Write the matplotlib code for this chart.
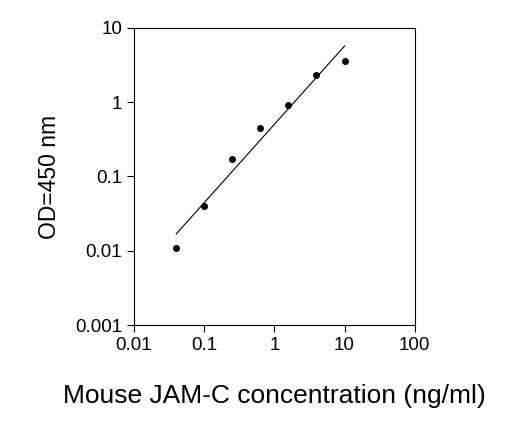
import numpy as np
import matplotlib
matplotlib.use("Agg")
import matplotlib.pyplot as plt
from matplotlib.ticker import FixedLocator, FixedFormatter, NullLocator

plt.rcParams['font.family'] = ['Liberation Sans', 'DejaVu Sans']

conc = [0.04, 0.1, 0.25, 0.625, 1.5625, 3.9, 10]
od = [0.011, 0.04, 0.17, 0.45, 0.92, 2.3, 3.6]
xticks = [0.01, 0.1, 1, 10, 100]
xlabels = ['0.01', '0.1', '1', '10', '100']
yticks = [0.001, 0.01, 0.1, 1, 10]
ylabels = ['0.001', '0.01', '0.1', '1', '10']

fig = plt.figure(figsize=(5.23, 4.44), dpi=100)
ax = fig.add_axes([0.256, 0.268, 0.537, 0.669])
ax.set_xscale('log'); ax.set_yscale('log')
lx, ly = np.log10(conc), np.log10(od)
m, b = np.polyfit(lx, ly, 1)
xx = np.array([lx[0], lx[-1]])
ax.plot(10**xx, 10**(m*xx+b), color='black', lw=0.8)
ax.plot(conc, od, 'o', color='black', ms=4)
ax.set_xlim(0.01, 100); ax.set_ylim(0.001, 10)
ax.xaxis.set_major_locator(FixedLocator(xticks)); ax.xaxis.set_major_formatter(FixedFormatter(xlabels))
ax.yaxis.set_major_locator(FixedLocator(yticks)); ax.yaxis.set_major_formatter(FixedFormatter(ylabels))
ax.xaxis.set_minor_locator(NullLocator()); ax.yaxis.set_minor_locator(NullLocator())
ax.tick_params(labelsize=13.5, direction='out', length=5)
ax.set_xlabel('Mouse JAM-C concentration (ng/ml)', fontsize=19, labelpad=22)
ax.set_ylabel('OD=450 nm', fontsize=16.5, labelpad=10)
fig.savefig('out.png', dpi=100)
